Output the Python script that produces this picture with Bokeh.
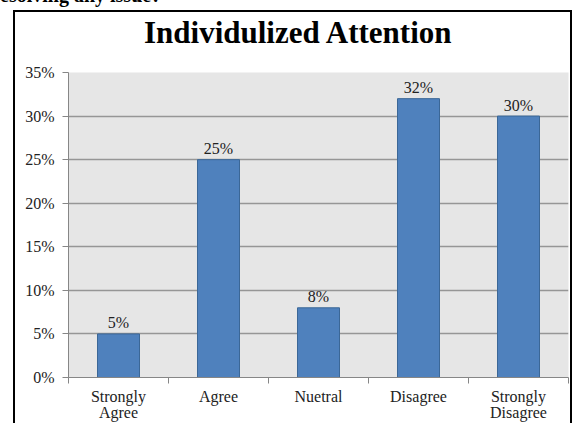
from bokeh.plotting import figure
from bokeh.layouts import column
from bokeh.models import (ColumnDataSource, FixedTicker, NumeralTickFormatter, Range1d, Div)
from bokeh.core.properties import value
from bokeh.embed import file_html
from bokeh.resources import INLINE

categories = ["Strongly\nAgree", "Agree", "Nuetral", "Disagree", "Strongly\nDisagree"]
values = [0.05, 0.25, 0.08, 0.32, 0.30]
value_labels = ["5%", "25%", "8%", "32%", "30%"]
y_ticks = [0.0, 0.05, 0.10, 0.15, 0.20, 0.25, 0.30, 0.35]
title_text = "Individulized Attention"
header_fragment = "esolving any issue?"

FONT = "Liberation Serif"
x_pos = [i + 0.5 for i in range(len(categories))]
src = ColumnDataSource(dict(x=x_pos, top=values, label=value_labels))

p = figure(width=555, height=361,
           x_range=Range1d(0, len(categories)), y_range=Range1d(0, 0.35),
           output_backend="svg", toolbar_location=None,
           min_border_left=53, min_border_right=2, min_border_top=10, min_border_bottom=45,
           background_fill_color="#E6E6E6", border_fill_color="white",
           outline_line_color=None)

# bars
p.vbar(x="x", top="top", width=0.42, bottom=0, source=src,
       fill_color="#4F81BD", line_color="#3B6797", line_width=1)
p.text(x="x", y="top", text="label", source=src, y_offset=-11,
       text_align="center", text_baseline="alphabetic",
       text_font=value(FONT), text_font_size="16px", text_color="#222222")

# y axis
p.yaxis.ticker = FixedTicker(ticks=y_ticks)
p.yaxis.formatter = NumeralTickFormatter(format="0%")
p.yaxis.major_label_text_font = FONT
p.yaxis.major_label_text_font_size = "16px"
p.yaxis.major_label_text_color = "#222222"
p.yaxis.major_tick_out = 6
p.yaxis.major_tick_in = 0
p.yaxis.minor_tick_line_color = None
p.yaxis.axis_line_color = "#868686"
p.yaxis.major_tick_line_color = "#868686"
p.yaxis.major_label_standoff = 8

# x axis
p.xaxis.ticker = FixedTicker(ticks=x_pos, minor_ticks=list(range(len(categories) + 1)))
p.xaxis.major_label_overrides = {xp: c for xp, c in zip(x_pos, categories)}
p.xaxis.major_tick_line_color = None
p.xaxis.minor_tick_out = 6
p.xaxis.minor_tick_in = 0
p.xaxis.minor_tick_line_color = "#868686"
p.xaxis.axis_line_color = "#868686"
p.xaxis.major_label_text_font = FONT
p.xaxis.major_label_text_font_size = "16px"
p.xaxis.major_label_text_color = "#222222"
p.xaxis.major_label_text_line_height = 0.95
p.xaxis.major_label_standoff = 4

# grid
p.xgrid.visible = False
p.ygrid.ticker = FixedTicker(ticks=y_ticks)
p.ygrid.grid_line_color = "#969696"
p.ygrid.grid_line_width = 1.5

# chart title inside the bordered chart area
title_div = Div(text=("<div style=\"padding-top:4px; padding-left:129px; "
                      "font-family:'Liberation Serif'; font-weight:bold; font-size:31px; "
                      "line-height:34px; white-space:nowrap; color:black\">"
                      + title_text + "</div>"),
                width=555, height=50, margin=0)

chart = column(title_div, p, spacing=0,
               styles={"border-left": "2px solid black", "border-right": "2px solid black",
                       "border-top": "2px solid black", "background": "white",
                       "margin-left": "13px", "margin-top": "0px"})

# cut-off line of the question text above the chart
frag_div = Div(text=header_fragment, width=250, height=20,
               styles={"margin-top": "-15px", "margin-left": "0px",
                       "font-family": "'Liberation Serif'",
                       "font-weight": "bold", "font-size": "20px", "line-height": "20px",
                       "white-space": "nowrap", "color": "black"})

layout = column(frag_div, chart, spacing=0)
open("out.html", "w").write(file_html(layout, INLINE))
